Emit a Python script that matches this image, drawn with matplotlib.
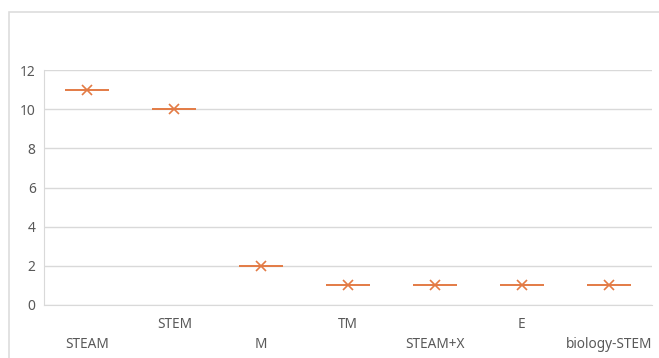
import matplotlib.pyplot as plt
from matplotlib.patches import Rectangle

# categories and counts
categories = ["STEAM", "STEM", "M", "TM", "STEAM+X", "E", "biology-STEM"]
counts = [11, 10, 2, 1, 1, 1, 1]
yticks = [0, 2, 4, 6, 8, 10, 12]

plt.rcParams['font.family'] = ['Noto Sans', 'DejaVu Sans']

fig = plt.figure(figsize=(6.59, 3.58), dpi=100)
ax = fig.add_axes([44 / 659, 1 - 305 / 358, 608 / 659, 235 / 358])

# outer chart frame (runs off the right and bottom edges)
fig.patches.append(Rectangle((9 / 659, -0.1), 1.2, 1 - 12 / 358 + 0.1,
                             transform=fig.transFigure, fill=False,
                             edgecolor='#DDDDDD', linewidth=1.2))

xs = list(range(len(categories)))
orange = '#E37B45'
ax.plot(xs, counts, linestyle='none', marker='_', markersize=32,
        markeredgewidth=1.4, color=orange)
ax.plot(xs, counts, linestyle='none', marker='x', markersize=7,
        markeredgewidth=1.2, color=orange)

ax.set_xlim(-0.5, len(categories) - 0.5)
ax.set_ylim(0, 12)
ax.set_yticks(yticks)
ax.set_yticklabels([str(v) for v in yticks], color='#595959', fontsize=10)
ax.tick_params(axis='y', length=0, pad=6)
ax.set_xticks([])

ax.grid(axis='y', color='#D9D9D9', linewidth=1)
ax.set_axisbelow(True)
for side in ['top', 'right']:
    ax.spines[side].set_visible(False)
ax.spines['left'].set_color('#D9D9D9')
ax.spines['bottom'].set_color('#D9D9D9')

# staggered category labels, two rows
for i, name in enumerate(categories):
    y = -40 / 235 if i % 2 == 0 else -20 / 235
    ax.text(i, y, name, transform=ax.get_xaxis_transform(), ha='center',
            va='center', fontsize=9.8, color='#595959')

fig.savefig('out.png', dpi=100)
